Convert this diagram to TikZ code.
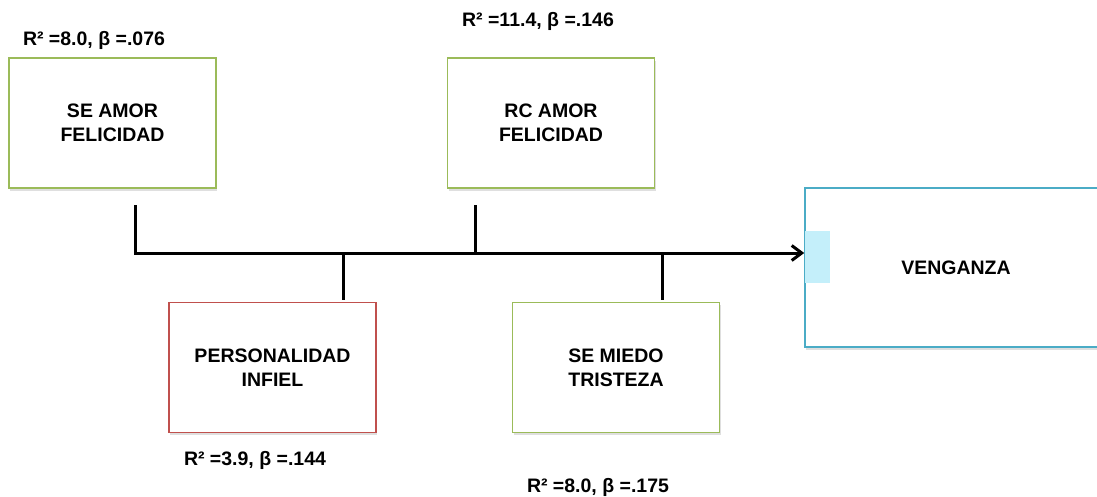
\documentclass[tikz,border=0pt]{standalone}
\usepackage{fontspec}
\setmainfont{Liberation Sans}
\usetikzlibrary{arrows.meta,shadows}
\definecolor{boxgreen}{HTML}{9BBB59}
\definecolor{boxred}{HTML}{C0504D}
\definecolor{boxblue}{HTML}{4BACC6}
\definecolor{tipcyan}{HTML}{C4EFFA}
\begin{document}
\begin{tikzpicture}[x=1pt,y=-1pt,
  box/.style={draw,line width=1.6pt,fill=white,minimum width=207pt,minimum height=130pt,
    inner sep=0pt,align=center,font=\fontsize{19.5}{24}\selectfont\bfseries,
    drop shadow={opacity=0.25,shadow xshift=1pt,shadow yshift=-2.5pt}},
  stat/.style={font=\fontsize{19.5}{22}\selectfont\bfseries,inner sep=0pt},
  conn/.style={line width=3pt}]
\path[use as bounding box,clip] (0,0) rectangle (1097,496);
\node[box,draw=boxgreen] (seamor) at (112.5,123) {SE AMOR\\FELICIDAD};
\node[box,draw=boxgreen] (rcamor) at (551,123) {RC AMOR\\FELICIDAD};
\node[box,draw=boxred] (personalidad) at (272.5,367.5) {PERSONALIDAD\\INFIEL};
\node[box,draw=boxgreen] (miedo) at (616,367.5) {SE MIEDO\\TRISTEZA};
\node[box,draw=boxblue,minimum width=302pt,minimum height=159pt] (venganza) at (956,267.5) {VENGANZA};
\fill[tipcyan] (805,231) rectangle (830,283);
\node[stat] (r1) at (94,40) {R² =8.0, β =.076};
\node[stat] (r2) at (538,21) {R² =11.4, β =.146};
\node[stat] (r3) at (255,460) {R² =3.9, β =.144};
\node[stat] (r4) at (598,487) {R² =8.0, β =.175};
\coordinate (t1) at (135,205);
\coordinate (j1) at (135,253);
\coordinate (t2) at (475,205);
\coordinate (j2) at (475,253);
\coordinate (j3) at (343,253);
\coordinate (j4) at (662,253);
\draw[conn,-{Straight Barb[length=10pt,width=15pt]}] (t1) -- (j1) -- (j1 -| venganza.west);
\draw[conn] (t2) -- (j2);
\draw[conn,shorten >=2pt] (j3) -- (j3 |- personalidad.north);
\draw[conn,shorten >=2pt] (j4) -- (j4 |- miedo.north);
\end{tikzpicture}
\end{document}
